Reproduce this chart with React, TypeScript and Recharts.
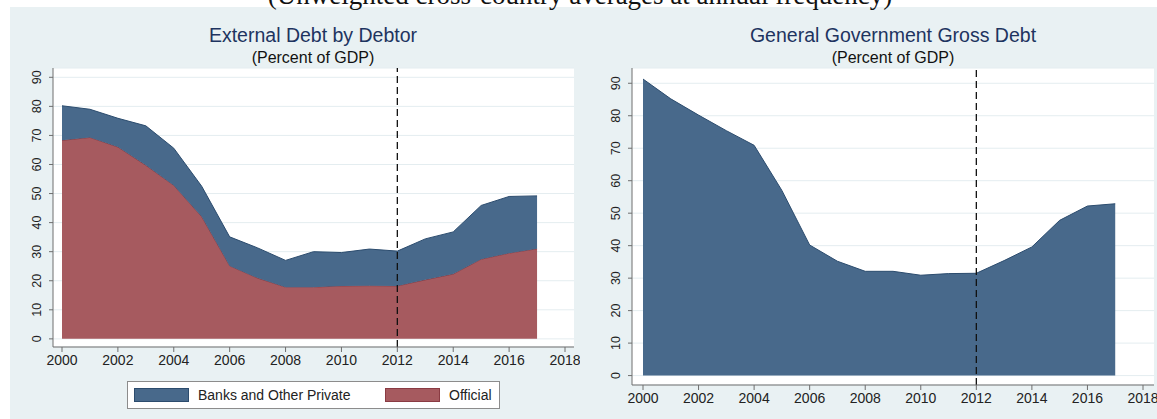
import React from 'react';
import { AreaChart, Area, XAxis, YAxis, CartesianGrid, ReferenceLine, Legend } from 'recharts';

// ---- data ----
const years = [2000, 2001, 2002, 2003, 2004, 2005, 2006, 2007, 2008, 2009, 2010, 2011, 2012, 2013, 2014, 2015, 2016, 2017];
const official = [68.3, 69.3, 66.0, 59.7, 52.8, 42.0, 25.1, 20.9, 17.8, 17.8, 18.2, 18.3, 18.2, 20.3, 22.3, 27.4, 29.5, 31.0];
const banksPrivate = [11.9, 9.7, 9.9, 13.6, 12.8, 10.5, 10.0, 10.4, 9.2, 12.2, 11.5, 12.6, 12.0, 14.1, 14.5, 18.5, 19.5, 18.2];
const govDebt = [91.3, 85.2, 80.2, 75.4, 70.9, 57.0, 40.2, 35.2, 32.1, 32.1, 30.9, 31.4, 31.5, 35.4, 39.6, 47.8, 52.2, 52.9];
const xTicks = [2000, 2002, 2004, 2006, 2008, 2010, 2012, 2014, 2016, 2018];
const yTicks = [0, 10, 20, 30, 40, 50, 60, 70, 80, 90];
const markerYear = 2012;

const pageTitle = '(Unweighted cross-country averages at annual frequency)';
const leftTitle = 'External Debt by Debtor';
const rightTitle = 'General Government Gross Debt';
const subTitle = '(Percent of GDP)';
const banksName = 'Banks and Other Private';
const officialName = 'Official';
const govName = 'General Government Gross Debt';

const externalData = years.map((y, i) => ({ year: y, official: official[i], banks: banksPrivate[i] }));
const govData = years.map((y, i) => ({ year: y, gov: govDebt[i] }));

// ---- styles ----
const SANS = '"Liberation Sans", Arial, Helvetica, sans-serif';
const BLUE = '#48698b';
const BLUE_EDGE = '#2c4c6e';
const RED = '#a65a5f';
const RED_EDGE = '#8a3b43';
const PANEL_BG = '#e9f1f3';
const GRID = '#e4edf0';
const AXIS = '#6e6e6e';
const TITLE_COLOR = '#1e3460';

const YTick = (props: any) => {
  const { x, y, payload } = props;
  const cx = x - 10;
  return (
    <text
      x={cx}
      y={y}
      transform={`rotate(-90 ${cx} ${y})`}
      textAnchor="middle"
      dominantBaseline="central"
      fontSize={12.5}
      fontFamily={SANS}
      fill="#222"
    >
      {payload.value}
    </text>
  );
};

const legendColors: Record<string, [string, string]> = {
  banks: [BLUE, BLUE_EDGE],
  official: [RED, RED_EDGE],
};
const legendOrder = ['banks', 'official'];
const legendOffsets = [6, 257];

const renderLegend = (props: any) => {
  const payload = [...(props.payload || [])].sort(
    (a: any, b: any) => legendOrder.indexOf(a.dataKey) - legendOrder.indexOf(b.dataKey)
  );
  return (
    <div
      style={{
        position: 'relative',
        boxSizing: 'border-box',
        width: 373,
        height: 28,
        border: '1px solid #8c8c8c',
        background: '#fff',
        fontFamily: SANS,
        fontSize: 14,
        color: '#222',
      }}
    >
      {payload.map((p: any, i: number) => {
        const [fill, edge] = legendColors[p.dataKey] || [p.color, p.color];
        return (
          <div
            key={p.dataKey}
            style={{ position: 'absolute', left: legendOffsets[i], top: 6, display: 'flex', alignItems: 'center' }}
          >
            <div style={{ boxSizing: 'border-box', width: 55, height: 14, background: fill, border: `1px solid ${edge}` }} />
            <span style={{ marginLeft: 9, lineHeight: '14px', whiteSpace: 'nowrap' }}>{p.value}</span>
          </div>
        );
      })}
    </div>
  );
};

const axisCommon = {
  stroke: AXIS,
  tick: { fontSize: 14, fontFamily: SANS, fill: '#222' },
};

export default function App() {
  return (
    <div style={{ position: 'absolute', left: 0, top: 0, width: 1157, height: 419, background: '#fff', overflow: 'hidden' }}>
      <div style={{ position: 'absolute', left: 10, top: 7, width: 1147, height: 412, background: PANEL_BG }} />

      {/* Left: External debt by debtor */}
      <div style={{ position: 'absolute', left: 0, top: 0 }}>
        <AreaChart width={580} height={419} data={externalData} margin={{ top: 68, right: 6, left: 10, bottom: 42 }}>
          <CartesianGrid vertical={false} stroke={GRID} fill="#fff" />
          <XAxis
            type="number"
            dataKey="year"
            domain={[2000, 2018]}
            ticks={xTicks}
            padding={{ left: 9, right: 9 }}
            height={30}
            tickSize={5}
            tickMargin={3}
            {...axisCommon}
          />
          <YAxis
            type="number"
            domain={[-2.8, 93.2]}
            ticks={yTicks}
            allowDataOverflow
            width={43}
            tickSize={4}
            tickMargin={2}
            stroke={AXIS}
            tick={<YTick />}
          />
          <Area
            type="linear"
            dataKey="official"
            name={officialName}
            stackId="ext"
            fill={RED}
            fillOpacity={1}
            stroke={RED_EDGE}
            strokeWidth={1}
            isAnimationActive={false}
          />
          <Area
            type="linear"
            dataKey="banks"
            name={banksName}
            stackId="ext"
            fill={BLUE}
            fillOpacity={1}
            stroke={BLUE_EDGE}
            strokeWidth={1}
            isAnimationActive={false}
          />
          <ReferenceLine x={markerYear} stroke="#111" strokeWidth={1.3} strokeDasharray="7 4" />
          <Legend
            layout="horizontal"
            verticalAlign="middle"
            align="center"
            content={renderLegend}
            wrapperStyle={{ left: 127, top: 381, width: 373, height: 28 }}
          />
        </AreaChart>
      </div>

      {/* Right: General government gross debt */}
      <div style={{ position: 'absolute', left: 580, top: 0 }}>
        <AreaChart width={577} height={419} data={govData} margin={{ top: 68, right: 3, left: 10, bottom: 4 }}>
          <CartesianGrid vertical={false} stroke={GRID} fill="#fff" />
          <XAxis
            type="number"
            dataKey="year"
            domain={[2000, 2018]}
            ticks={xTicks}
            padding={{ left: 11, right: 11 }}
            height={30}
            tickSize={5}
            tickMargin={3}
            {...axisCommon}
          />
          <YAxis
            type="number"
            domain={[-2.9, 94.7]}
            ticks={yTicks}
            allowDataOverflow
            width={42}
            tickSize={4}
            tickMargin={2}
            stroke={AXIS}
            tick={<YTick />}
          />
          <Area
            type="linear"
            dataKey="gov"
            name={govName}
            fill={BLUE}
            fillOpacity={1}
            stroke={BLUE_EDGE}
            strokeWidth={1}
            isAnimationActive={false}
          />
          <ReferenceLine x={markerYear} stroke="#111" strokeWidth={1.3} strokeDasharray="7 4" />
        </AreaChart>
      </div>

      {/* Titles */}
      <svg width={1157} height={419} style={{ position: 'absolute', left: 0, top: 0, pointerEvents: 'none' }}>
        <text x={580} y={4} textAnchor="middle" fontFamily='"Liberation Serif", "Times New Roman", serif' fontSize={27} fill="#111">
          {pageTitle}
        </text>
        <text x={313} y={41.5} textAnchor="middle" fontFamily={SANS} fontSize={19.5} fill={TITLE_COLOR}>
          {leftTitle}
        </text>
        <text x={313} y={63} textAnchor="middle" fontFamily={SANS} fontSize={16} fill="#111">
          {subTitle}
        </text>
        <text x={893} y={41.5} textAnchor="middle" fontFamily={SANS} fontSize={19.5} fill={TITLE_COLOR}>
          {rightTitle}
        </text>
        <text x={893} y={63} textAnchor="middle" fontFamily={SANS} fontSize={16} fill="#111">
          {subTitle}
        </text>
      </svg>
    </div>
  );
}
